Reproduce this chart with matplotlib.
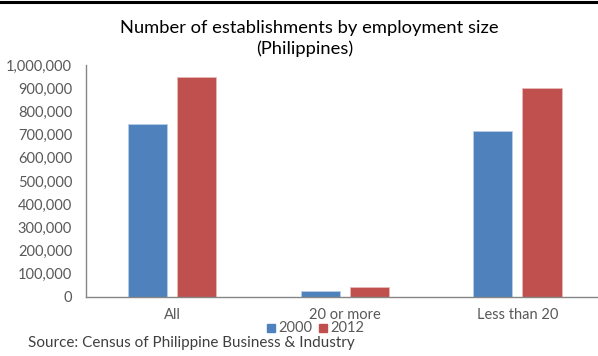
import matplotlib
matplotlib.use("Agg")
import matplotlib.pyplot as plt
from matplotlib.ticker import FuncFormatter, MultipleLocator
import numpy as np

plt.rcParams['font.family'] = ['Lato', 'DejaVu Sans']

categories = ["All", "20 or more", "Less than 20"]
years = ["2000", "2012"]
values_2000 = [744000, 26000, 716000]
values_2012 = [947000, 43000, 900000]
colors = ["#4F81BD", "#C0504D"]

W, H = 598, 356
fig = plt.figure(figsize=(W / 100, H / 100), dpi=100)

# plot area in pixel terms
left_px, right_px, top_px, bottom_px = 86, 598, 65, 297
ax = fig.add_axes([left_px / W, 1 - bottom_px / H,
                   (right_px - left_px) / W, (bottom_px - top_px) / H])

x = np.arange(len(categories))
bw = 0.226
gap = 0.058
off = (bw + gap) / 2
ax.bar(x - off, values_2000, width=bw, color=colors[0],
       edgecolor="#B9CDE5", linewidth=0.6, label=years[0], zorder=2)
ax.bar(x + off, values_2012, width=bw, color=colors[1],
       edgecolor="#E6B9B8", linewidth=0.6, label=years[1], zorder=2)

ax.set_xlim(-0.5, (right_px - 171.8) / 172.8)
ax.set_ylim(0, 1000000)
ax.yaxis.set_major_locator(MultipleLocator(100000))
ax.yaxis.set_major_formatter(FuncFormatter(lambda v, p: f"{int(v):,}"))
ax.set_xticks(x)
ax.set_xticklabels(categories)

for s in ["top", "right"]:
    ax.spines[s].set_visible(False)
for s in ["left", "bottom"]:
    ax.spines[s].set_color("#868686")
    ax.spines[s].set_linewidth(1.0)
ax.tick_params(axis="both", length=0, labelsize=10.5, labelcolor="#595959")
ax.tick_params(axis="x", pad=8)
ax.tick_params(axis="y", pad=10)

fig.text(309 / W, 1 - 28 / H, "Number of establishments by employment size",
         ha="center", va="center", fontsize=13.2, color="#000000")
fig.text(305 / W, 1 - 49 / H, "(Philippines)",
         ha="center", va="center", fontsize=13.2, color="#000000")

# legend
leg_y = 1 - 328 / H
for i, (yr, c) in enumerate(zip(years, colors)):
    x0 = 267 + i * 52
    fig.patches.append(plt.Rectangle((x0 / W, leg_y - 4 / H), 8 / W, 8 / H,
                                     transform=fig.transFigure, color=c))
    fig.text((x0 + 11) / W, leg_y, yr, ha="left", va="center",
             fontsize=10.5, color="#595959")

fig.text(28 / W, 1 - 343 / H, "Source: Census of Philippine Business & Industry",
         ha="left", va="center", fontsize=11, color="#404040")

# frame line along the top edge
fig.add_artist(plt.Line2D([0, 1], [1 - 1.5 / H, 1 - 1.5 / H],
                          transform=fig.transFigure, color="black", linewidth=2.2))

fig.savefig("out.png", dpi=100)
